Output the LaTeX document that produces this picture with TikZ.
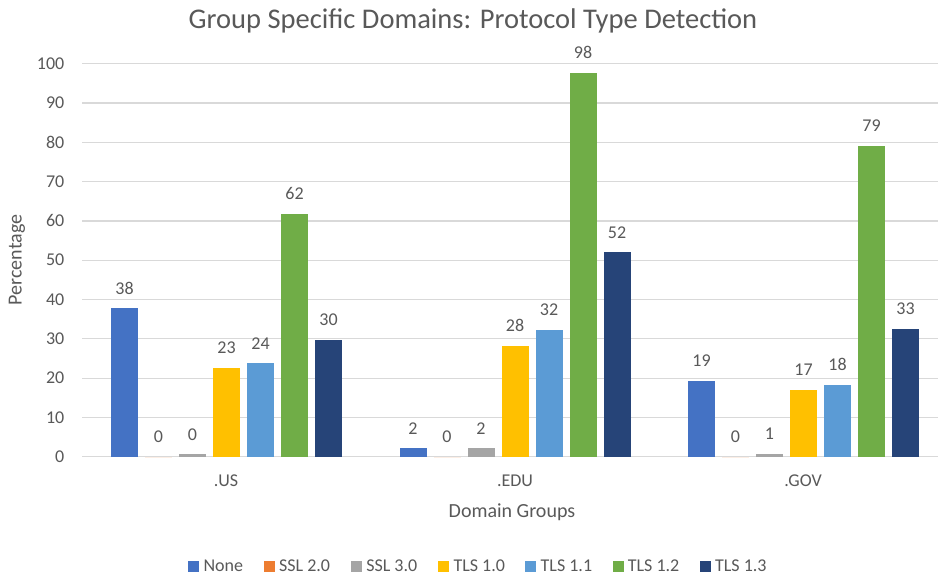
\documentclass[tikz,border=0pt]{standalone}
\usepackage{fontspec}
\setmainfont{Carlito}
\definecolor{txt}{HTML}{595959}
\definecolor{gridc}{HTML}{D9D9D9}
\definecolor{c0}{HTML}{4472C4}
\definecolor{c1}{HTML}{ED7D31}
\definecolor{c2}{HTML}{A5A5A5}
\definecolor{c3}{HTML}{FFC000}
\definecolor{c4}{HTML}{5B9BD5}
\definecolor{c5}{HTML}{70AD47}
\definecolor{c6}{HTML}{264478}
\begin{document}
\begin{tikzpicture}[x=1pt,y=-1pt,
  gridline/.style={draw=gridc,line width=1.2pt},
  ticklab/.style={anchor=east,text=txt,inner sep=0pt,font=\fontsize{18}{20}\selectfont},
  datalab/.style={text=txt,inner sep=0pt,font=\fontsize{18}{20}\selectfont},
  catlab/.style={text=txt,inner sep=0pt,font=\fontsize{18}{20}\selectfont},
  axtitle/.style={text=txt,inner sep=0pt,font=\fontsize{20}{22}\selectfont},
  legtext/.style={anchor=west,text=txt,inner sep=0pt,font=\fontsize{18}{20}\selectfont},
  legsq/.style={inner sep=0pt,minimum size=11pt,anchor=west}]
\useasboundingbox (0,0) rectangle (938,575);
\fill[white] (0,0) rectangle (938,575);
% title
\node[text=txt,inner sep=0pt,font=\fontsize{28.5}{30}\selectfont] (title) at (473,21) {Group Specific Domains: Protocol Type Detection};
% grid and ticks
\foreach \v in {0,10,...,100}{
  \pgfmathsetmacro\yy{456.7-3.93*\v}
  \draw[gridline] (82,\yy) -- (938,\yy);
  \node[ticklab] (t\v) at (64.5,\yy) {\v};
}
% bars and labels
\foreach \g/\i/\v/\t in {
  0/0/37.8/38, 0/1/0/0, 0/2/0.6/0, 0/3/22.6/23, 0/4/23.8/24, 0/5/61.8/62, 0/6/29.7/30,
  1/0/2.1/2, 1/1/0/0, 1/2/2.1/2, 1/3/28.2/28, 1/4/32.3/32, 1/5/97.7/98, 1/6/52.0/52,
  2/0/19.3/19, 2/1/0/0, 2/2/0.8/1, 2/3/17.0/17, 2/4/18.3/18, 2/5/79.1/79, 2/6/32.6/33}{
  \pgfmathsetmacro\xl{111+288.5*\g+34*\i}
  \pgfmathsetmacro\xr{\xl+27}
  \pgfmathsetmacro\xc{\xl+13.5}
  \pgfmathsetmacro\yt{456.7-3.93*\v}
  \pgfmathsetmacro\yl{\yt-20}
  \fill[fill=c\i] (\xl,456.7) rectangle (\xr,\yt);
  \node[datalab] (l\g\i) at (\xc,\yl) {\t};
}
% category labels
\node[catlab] (cus) at (226,481) {.US};
\node[catlab] (cedu) at (515,481) {.EDU};
\node[catlab] (cgov) at (803,481) {.GOV};
% axis titles
\node[axtitle] (xt) at (512,512) {Domain Groups};
\node[axtitle,rotate=90] (yt) at (17,260) {Percentage};
% legend
\foreach \k/\x/\name in {0/188/None,1/263.5/SSL 2.0,2/350.7/SSL 3.0,3/437.9/TLS 1.0,4/525.1/TLS 1.1,5/612.3/TLS 1.2,6/699.5/TLS 1.3}{
  \node[legsq,fill=c\k] (sq\k) at (\x,566) {};
  \node[legtext] (lt\k) at ([xshift=4pt]sq\k.east) {\name};
}
\end{tikzpicture}
\end{document}
